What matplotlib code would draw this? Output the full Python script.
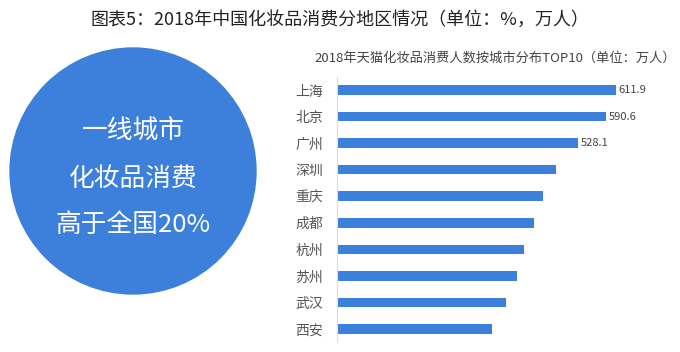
import matplotlib
matplotlib.use('Agg')
import matplotlib.pyplot as plt
from matplotlib.patches import Circle

plt.rcParams['font.family'] = ['Noto Sans CJK SC', 'DejaVu Sans']

# data
cities = ['上海', '北京', '广州', '深圳', '重庆', '成都', '杭州', '苏州', '武汉', '西安']
values = [611.9, 590.6, 528.1, 480, 452, 432, 410, 395, 370, 340]
shown = ['611.9', '590.6', '528.1', '', '', '', '', '', '', '']
circle_lines = ['一线城市', '化妆品消费', '高于全国20%']

title = '图表5：2018年中国化妆品消费分地区情况（单位：%，万人）'
subtitle = '2018年天猫化妆品消费人数按城市分布TOP10（单位：万人）'

blue = '#3c80dc'

fig = plt.figure(figsize=(6.8, 3.52), dpi=100)
fig.patch.set_facecolor('white')

fig.text(0.5, 1 - 20 / 352, title, ha='center', va='center', fontsize=13, color='#222222')
fig.text(495 / 680, 1 - 58 / 352, subtitle, ha='center', va='center', fontsize=9.5, color='#444444')

# left circle, drawn in pixel units
axc = fig.add_axes([0, 0, 306 / 680, 1])
axc.set_xlim(0, 306)
axc.set_ylim(0, 352)
axc.axis('off')
axc.add_patch(Circle((133, 352 - 171), 123, color=blue))
for i, line in enumerate(circle_lines):
    axc.text(133, 352 - (132 + 46.5 * i), line, ha='center', va='center',
             fontsize=18.5, color='white')

# bar chart
ax = fig.add_axes([337 / 680, 1 - 342.3 / 352, 1 - 337 / 680, (342.3 - 76.7) / 352])
y = range(len(cities))
ax.barh(y, values, height=0.36, color=blue)
ax.set_ylim(9.5, -0.5)
ax.set_xlim(0, 752)
ax.set_yticks(list(y))
ax.set_yticklabels(cities, fontsize=10, color='#555555')
ax.tick_params(axis='y', length=0, pad=10)
ax.set_xticks([])
for s in ['top', 'right', 'bottom']:
    ax.spines[s].set_visible(False)
ax.spines['left'].set_color('#dddddd')
for i, (v, t) in enumerate(zip(values, shown)):
    if t:
        ax.text(v + 6, i, t, va='center', ha='left', fontsize=8, color='#444444')

fig.savefig('out.png', dpi=100)
